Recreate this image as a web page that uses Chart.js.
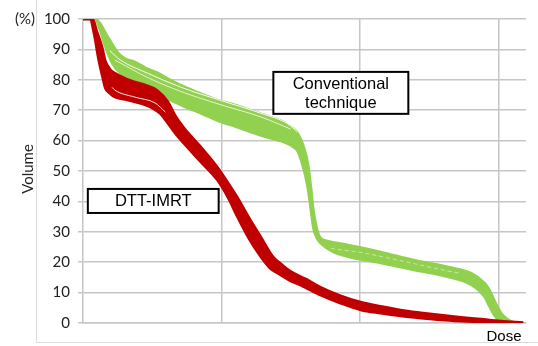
<!DOCTYPE html>
<html>
<head>
<meta charset="utf-8">
<script src="https://cdn.jsdelivr.net/npm/chart.js@4/dist/chart.umd.min.js"></script>
<style>
  html, body { margin: 0; padding: 0; background: #fff; }
  #wrap { width: 538px; height: 346px; position: relative; }
</style>
</head>
<body>
<div id="wrap"><canvas id="dvh" width="538" height="346"></canvas></div>
<script>
// Dose-volume histograms: DTT-IMRT plans (red band) vs conventional plans (green band).
// Each band is bounded by an upper and a lower envelope curve (dose in Gy, volume in %).

const redDoseUpper = [0, 1.4, 2.0, 2.8, 3.2, 3.9, 4.6, 6.1, 7.5, 9.0, 10.7, 12.3, 13.3, 14.5, 17.0, 19.4, 21.0, 22.3, 23.9, 25.7, 27.5, 28.6, 30.0, 32.2, 34.3, 37.2, 40.1, 43.0, 45.9, 48.8, 51.7, 54.6, 57.5, 60.4, 63.6];
const redVolUpper  = [100, 100, 96, 90.5, 86.5, 83.5, 82.2, 80.5, 79.3, 78.3, 76.6, 72.7, 68.4, 64.5, 58, 51.3, 46, 41.4, 35, 28.3, 21.7, 19.5, 17, 14.5, 11.8, 9, 6.9, 5.5, 4.3, 3.4, 2.6, 1.9, 1.3, 0.7, 0.2];

const redDoseLower = [0, 1.0, 1.6, 2.2, 2.8, 3.2, 3.9, 4.6, 6.1, 7.5, 9.0, 10.0, 11.2, 11.9, 13.3, 14.5, 17.0, 19.4, 21.0, 22.3, 23.9, 25.7, 27.1, 28.1, 30.0, 31.4, 34.3, 37.2, 40.1, 43.0, 45.9, 48.8, 51.7, 54.6, 57.5, 60.4, 63.6];
const redVolLower  = [100, 100, 95, 87.2, 81, 77.3, 75.5, 74.3, 73.5, 72.7, 71.7, 70.7, 68.8, 66.8, 62.4, 59.2, 53, 47, 41, 34.9, 28, 21.7, 17.8, 16.4, 13.8, 12.5, 9.2, 6.5, 4.3, 3.2, 2.3, 1.6, 1, 0.6, 0.3, 0.1, 0];

const greenDoseUpper = [0, 1.7, 2.5, 3.2, 3.9, 5.1, 6.1, 7.5, 9.0, 10.9, 12.6, 14.8, 17.0, 19.4, 22.0, 24.2, 26.4, 29.0, 30.0, 31.0, 31.9, 32.5, 32.9, 33.3, 33.8, 34.3, 35.3, 38.3, 43.0, 47.8, 52.8, 56.1, 58.0, 58.7, 59.4, 60.4, 61.2, 61.9, 62.6];
const greenVolUpper  = [100, 100, 98.5, 95.7, 93, 88.8, 87, 85.9, 84, 82.2, 80, 77.6, 75.5, 73.4, 71.7, 70, 68.3, 66.1, 64.5, 62.5, 57.9, 52.5, 45.5, 37, 31, 28, 27, 25.7, 23.4, 20.7, 18.4, 16.4, 13.2, 11, 7.6, 3.3, 1.5, 0.5, 0];

const greenDoseLower = [0, 1.7, 2.5, 3.2, 4.2, 5.4, 7.5, 10.0, 11.9, 14.5, 17.0, 19.4, 22.0, 24.2, 26.4, 29.0, 30.3, 31.0, 31.7, 32.2, 32.5, 32.9, 33.3, 33.9, 34.3, 36.2, 38.3, 43.0, 47.8, 52.8, 56.1, 58.0, 58.7, 59.4, 60.1, 60.7, 62.6];
const greenVolLower  = [100, 100, 96, 91, 85.5, 82, 79, 75.8, 74, 71.3, 69, 66.6, 64.6, 62.8, 61.2, 59.5, 58, 56.5, 52, 47.5, 44, 37.5, 31, 27.5, 26.3, 23.3, 21.8, 19.7, 17.4, 15.1, 12.5, 8.6, 5.5, 2.6, 0.7, 0, 0];

// Gaps between individual plan curves that show through the bands
const greenGapDoseA = [3.9, 5.4, 9.3, 14.1, 19.9, 25.7, 29.6, 31.0];
const greenGapVolA  = [89.5, 86.5, 82.2, 77.6, 73.2, 69, 65.5, 62.8];
const greenGapDoseB = [4.6, 9.3, 14.1, 19.9, 25.7, 30.0];
const greenGapVolB  = [86.5, 80.8, 76.2, 71.8, 67.8, 63.8];
const greenGapDoseC = [35.8, 40.1, 45.9, 51.7, 54.6];
const greenGapVolC  = [24.5, 23.2, 20.5, 17.6, 16.3];
const redGapDose = [4.2, 4.6, 7.5, 10.4, 11.9];
const redGapVol  = [77.5, 76.6, 74.3, 72.4, 69.4];

const yTicks = [0, 10, 20, 30, 40, 50, 60, 70, 80, 90, 100];

const RED = '#C00000';
const GREEN = '#92D050';
const GRID = '#c6c6c6';

const pts = (xs, ys) => xs.map((x, i) => ({ x: x, y: ys[i] }));

function band(color, order, fill) {
  return {
    borderColor: color,
    backgroundColor: color,
    borderWidth: 2.5,
    pointRadius: 0,
    cubicInterpolationMode: 'monotone',
    fill: fill,
    order: order
  };
}
function gap(alpha, order, dash) {
  return {
    borderColor: 'rgba(255,255,255,' + alpha + ')',
    borderWidth: 1,
    borderDash: dash || [],
    pointRadius: 0,
    cubicInterpolationMode: 'monotone',
    fill: false,
    order: order
  };
}

const datasets = [
  Object.assign({ label: 'DTT-IMRT lower', data: pts(redDoseLower, redVolLower) }, band(RED, 1, false)),
  Object.assign({ label: 'DTT-IMRT upper', data: pts(redDoseUpper, redVolUpper) }, band(RED, 1, '-1')),
  Object.assign({ label: 'DTT-IMRT gap', data: pts(redGapDose, redGapVol) }, gap(0.9, 0)),
  Object.assign({ label: 'Conventional lower', data: pts(greenDoseLower, greenVolLower) }, band(GREEN, 4, false)),
  Object.assign({ label: 'Conventional upper', data: pts(greenDoseUpper, greenVolUpper) }, band(GREEN, 4, '-1')),
  Object.assign({ label: 'Conventional gap A', data: pts(greenGapDoseA, greenGapVolA) }, gap(0.95, 3)),
  Object.assign({ label: 'Conventional gap B', data: pts(greenGapDoseB, greenGapVolB) }, gap(0.75, 3)),
  Object.assign({ label: 'Conventional gap C', data: pts(greenGapDoseC, greenGapVolC) }, gap(0.5, 3, [4, 3]))
];

// Boxed labels anchored in data space (dose left/right, volume top/bottom)
const boxLabels = [
  { lines: ['Conventional', 'technique'], x0: 27.5, x1: 47.0, y0: 82.6, y1: 68.8 },
  { lines: ['DTT-IMRT'], x0: 0.7, x1: 19.6, y0: 44.1, y1: 36.2 }
];

const decor = {
  id: 'decor',
  beforeDraw(chart) {
    const c = chart.ctx;
    c.save();
    c.strokeStyle = '#dcdcdc';
    c.lineWidth = 1;
    c.beginPath();
    c.moveTo(36.5, 0);
    c.lineTo(36.5, 342.5);
    c.lineTo(538, 342.5);
    c.stroke();
    c.restore();
  },
  afterDraw(chart) {
    const c = chart.ctx;
    const xs = chart.scales.x, ys = chart.scales.y;
    c.save();
    c.font = '16.5px "Liberation Sans", Arial, sans-serif';
    c.textAlign = 'center';
    c.textBaseline = 'middle';
    boxLabels.forEach(b => {
      const l = xs.getPixelForValue(b.x0), r = xs.getPixelForValue(b.x1);
      const t = ys.getPixelForValue(b.y0), btm = ys.getPixelForValue(b.y1);
      c.fillStyle = '#fff';
      c.fillRect(l, t, r - l, btm - t);
      c.strokeStyle = '#000';
      c.lineWidth = 2;
      c.strokeRect(l, t, r - l, btm - t);
      c.fillStyle = '#000';
      const cx = (l + r) / 2, cy = (t + btm) / 2;
      const lh = 19;
      b.lines.forEach((s, i) => {
        c.fillText(s, cx, cy + (i - (b.lines.length - 1) / 2) * lh + 1);
      });
    });
    // axis captions
    c.fillStyle = '#222';
    c.font = '15px Lato, "Open Sans", sans-serif';
    c.textAlign = 'center';
    c.fillText('(%)', 25, 19);
    c.save();
    c.translate(28, 169);
    c.rotate(-Math.PI / 2);
    c.fillText('Volume', 0, 0);
    c.restore();
    c.fillStyle = '#000';
    c.font = '15px "Liberation Sans", Arial, sans-serif';
    c.fillText('Dose', 504, 337);
    c.restore();
  }
};

new Chart(document.getElementById('dvh'), {
  type: 'line',
  data: { datasets: datasets },
  options: {
    responsive: false,
    animation: false,
    layout: { padding: { left: 0, right: 12, top: 19, bottom: 23 } },
    plugins: { legend: { display: false }, tooltip: { enabled: false } },
    scales: {
      x: {
        type: 'linear',
        min: 0,
        max: 64,
        ticks: { display: false, stepSize: 20 },
        grid: {
          drawTicks: false,
          lineWidth: 1.5,
          color: ctx => (ctx.tick && ctx.tick.value % 20 === 0 && ctx.tick.value > 0) ? GRID : 'rgba(0,0,0,0)'
        },
        border: { display: true, color: GRID, width: 1.5 },
        afterFit: s => { s.height = 0; }
      },
      y: {
        min: 0,
        max: 100,
        afterBuildTicks: s => { s.ticks = yTicks.map(v => ({ value: v })); },
        ticks: {
          color: '#222',
          padding: 8,
          font: { family: 'Lato, "Open Sans", sans-serif', size: 15 }
        },
        grid: { color: GRID, lineWidth: 1.5, tickLength: 5 },
        border: { display: true, color: GRID, width: 1.5 },
        afterFit: s => { s.width = 83; }
      }
    }
  },
  plugins: [decor]
});
</script>
</body>
</html>
